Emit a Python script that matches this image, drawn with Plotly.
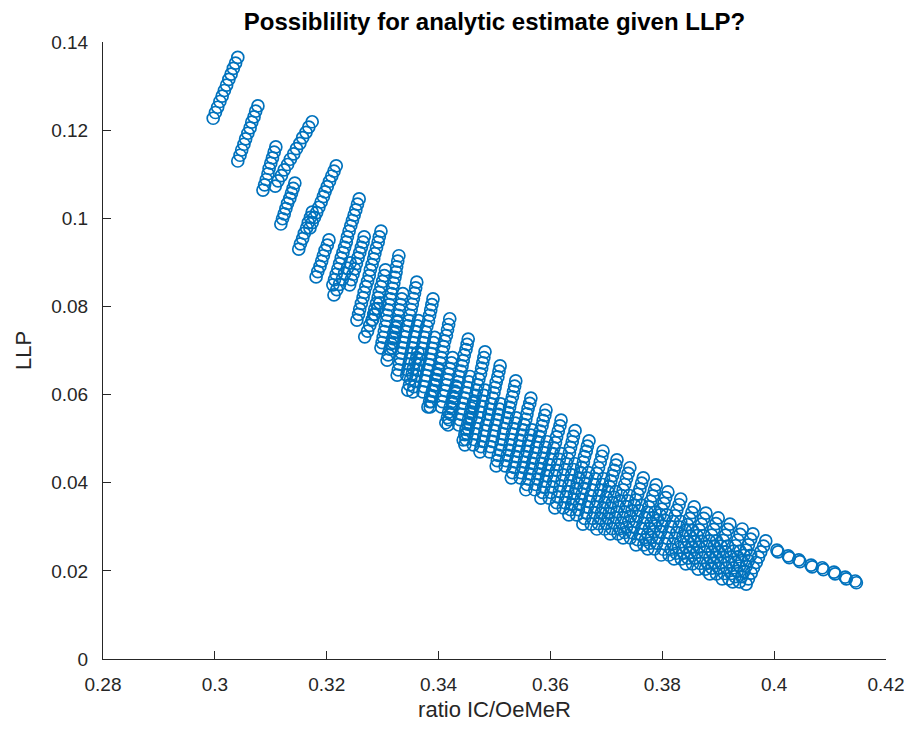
import plotly.graph_objects as go

# ---- data (ratio IC/OeMeR vs LLP) ----
# short streaks, upper-left family
fam_b_x = [
    [0.2997,0.3001,0.3005,0.3009,0.3013,0.3017,0.3021,0.3025,0.3029,0.3033,0.3037,0.3041],
    [0.3041,0.3045,0.3048,0.3052,0.3055,0.3059,0.3063,0.3066,0.3070,0.3073,0.3077],
    [0.3086,0.3089,0.3092,0.3095,0.3097,0.3100,0.3103,0.3106,0.3109],
    [0.3118,0.3121,0.3124,0.3127,0.3130,0.3134,0.3137,0.3140,0.3143],
    [0.3150,0.3153,0.3157,0.3160,0.3164,0.3167,0.3171,0.3174],
    [0.3181,0.3184,0.3188,0.3191,0.3194,0.3197,0.3201,0.3204],
    [0.3213,0.3218,0.3223,0.3228,0.3232,0.3237,0.3242],
    [0.3268,0.3273,0.3277,0.3282,0.3286,0.3291,0.3295],
    [0.3308,0.3310,0.3313,0.3315,0.3318,0.3320,0.3323,0.3326],
    [0.3345,0.3348,0.3350,0.3353,0.3355,0.3358,0.3361,0.3363],
    [0.3381,0.3384,0.3386,0.3389,0.3392,0.3395,0.3397,0.3400],
    [0.3413,0.3416,0.3418,0.3421,0.3424,0.3426,0.3429,0.3431],
    [0.3444,0.3447,0.3449,0.3452,0.3454,0.3457,0.3459,0.3462],
]
fam_b_y = [
    [0.1227,0.1240,0.1252,0.1265,0.1277,0.1290,0.1302,0.1315,0.1327,0.1340,0.1352,0.1365],
    [0.1130,0.1143,0.1155,0.1168,0.1180,0.1193,0.1205,0.1218,0.1230,0.1243,0.1255],
    [0.1064,0.1076,0.1088,0.1101,0.1113,0.1125,0.1137,0.1150,0.1162],
    [0.0987,0.0999,0.1010,0.1022,0.1034,0.1045,0.1057,0.1068,0.1080],
    [0.0930,0.0942,0.0954,0.0966,0.0978,0.0990,0.1002,0.1014],
    [0.0867,0.0879,0.0891,0.0903,0.0915,0.0927,0.0939,0.0951],
    [0.0826,0.0838,0.0850,0.0862,0.0875,0.0887,0.0899],
    [0.0731,0.0744,0.0757,0.0770,0.0782,0.0795,0.0808],
    [0.0678,0.0690,0.0703,0.0715,0.0727,0.0740,0.0752,0.0765],
    [0.0610,0.0622,0.0635,0.0647,0.0659,0.0672,0.0684,0.0696],
    [0.0572,0.0584,0.0596,0.0608,0.0620,0.0632,0.0644,0.0656],
    [0.0536,0.0548,0.0560,0.0572,0.0584,0.0596,0.0608,0.0619],
    [0.0497,0.0509,0.0521,0.0533,0.0545,0.0557,0.0569,0.0581],
]

# long streaks forming the upper envelope
fam_a_x = [
    [0.3108,0.3113,0.3119,0.3124,0.3130,0.3135,0.3141,0.3146,0.3152,0.3157,0.3163,0.3168,0.3174],
    [0.3170,0.3174,0.3178,0.3182,0.3186,0.3190,0.3194,0.3197,0.3201,0.3205,0.3209,0.3213,0.3217],
    [0.3211,0.3214,0.3217,0.3220,0.3223,0.3226,0.3229,0.3232,0.3235,0.3237,0.3240,0.3243,0.3246,0.3249,0.3252,0.3255,0.3258],
    [0.3254,0.3257,0.3259,0.3262,0.3265,0.3267,0.3270,0.3273,0.3276,0.3278,0.3281,0.3284,0.3286,0.3289,0.3292,0.3294,0.3297],
    [0.3297,0.3299,0.3301,0.3303,0.3305,0.3307,0.3308,0.3310,0.3312,0.3314,0.3316,0.3318,0.3320,0.3322,0.3324,0.3325,0.3327,0.3329],
    [0.3326,0.3328,0.3330,0.3332,0.3334,0.3336,0.3338,0.3340,0.3342,0.3345,0.3347,0.3349,0.3351,0.3353,0.3355,0.3357,0.3359,0.3361],
    [0.3354,0.3356,0.3358,0.3360,0.3362,0.3365,0.3367,0.3369,0.3371,0.3373,0.3375,0.3377,0.3379,0.3382,0.3384,0.3386,0.3388,0.3390],
    [0.3385,0.3387,0.3389,0.3392,0.3394,0.3396,0.3398,0.3400,0.3403,0.3405,0.3407,0.3409,0.3411,0.3414,0.3416,0.3418,0.3420],
    [0.3417,0.3419,0.3422,0.3424,0.3426,0.3428,0.3431,0.3433,0.3435,0.3437,0.3440,0.3442,0.3444,0.3446,0.3449,0.3451,0.3453],
    [0.3447,0.3449,0.3451,0.3453,0.3455,0.3458,0.3460,0.3462,0.3464,0.3466,0.3468,0.3470,0.3472,0.3475,0.3477,0.3479,0.3481,0.3483],
    [0.3474,0.3476,0.3479,0.3481,0.3483,0.3485,0.3488,0.3490,0.3492,0.3494,0.3497,0.3499,0.3501,0.3503,0.3506,0.3508,0.3510],
    [0.3503,0.3505,0.3507,0.3510,0.3512,0.3514,0.3516,0.3518,0.3521,0.3523,0.3525,0.3527,0.3529,0.3532,0.3534,0.3536,0.3538],
    [0.3530,0.3532,0.3535,0.3537,0.3539,0.3542,0.3544,0.3546,0.3549,0.3551,0.3553,0.3556,0.3558,0.3560,0.3563,0.3565],
    [0.3556,0.3558,0.3561,0.3563,0.3566,0.3568,0.3570,0.3573,0.3575,0.3578,0.3580,0.3582,0.3585,0.3587,0.3590,0.3592],
    [0.3583,0.3586,0.3588,0.3591,0.3593,0.3596,0.3598,0.3601,0.3604,0.3606,0.3609,0.3611,0.3614,0.3617,0.3619],
    [0.3608,0.3611,0.3613,0.3616,0.3618,0.3621,0.3623,0.3626,0.3629,0.3631,0.3634,0.3636,0.3639,0.3641,0.3644],
    [0.3633,0.3636,0.3638,0.3641,0.3643,0.3646,0.3648,0.3651,0.3654,0.3656,0.3659,0.3661,0.3664,0.3666,0.3669],
    [0.3658,0.3661,0.3664,0.3666,0.3669,0.3672,0.3675,0.3678,0.3680,0.3683,0.3686,0.3689,0.3692,0.3694],
    [0.3683,0.3686,0.3689,0.3691,0.3694,0.3697,0.3700,0.3703,0.3705,0.3708,0.3711,0.3714,0.3717,0.3719],
    [0.3707,0.3710,0.3713,0.3716,0.3719,0.3722,0.3724,0.3727,0.3730,0.3733,0.3736,0.3739,0.3742],
    [0.3730,0.3733,0.3736,0.3740,0.3743,0.3746,0.3750,0.3753,0.3756,0.3760,0.3763,0.3766],
    [0.3753,0.3756,0.3760,0.3763,0.3766,0.3769,0.3773,0.3776,0.3779,0.3783,0.3786,0.3789],
    [0.3774,0.3778,0.3781,0.3785,0.3788,0.3792,0.3796,0.3799,0.3803,0.3806,0.3810],
    [0.3798,0.3802,0.3805,0.3809,0.3812,0.3816,0.3819,0.3823,0.3826,0.3830,0.3833],
    [0.3821,0.3825,0.3829,0.3833,0.3837,0.3841,0.3845,0.3849,0.3853,0.3857],
    [0.3842,0.3846,0.3850,0.3854,0.3858,0.3862,0.3866,0.3870,0.3874,0.3878],
    [0.3864,0.3868,0.3872,0.3876,0.3880,0.3884,0.3888,0.3892,0.3896,0.3900],
    [0.3885,0.3889,0.3893,0.3897,0.3901,0.3905,0.3909,0.3913,0.3917,0.3921],
    [0.3907,0.3911,0.3915,0.3919,0.3923,0.3927,0.3931,0.3935,0.3939,0.3943],
    [0.3926,0.3930,0.3934,0.3938,0.3942,0.3946,0.3950,0.3954,0.3958,0.3962],
    [0.3950,0.3954,0.3959,0.3963,0.3968,0.3972,0.3976,0.3981,0.3985],
]
fam_a_y = [
    [0.1073,0.1085,0.1097,0.1110,0.1122,0.1134,0.1146,0.1158,0.1170,0.1183,0.1195,0.1207,0.1219],
    [0.0978,0.0990,0.1002,0.1013,0.1025,0.1037,0.1049,0.1060,0.1072,0.1084,0.1096,0.1107,0.1119],
    [0.0849,0.0861,0.0873,0.0885,0.0897,0.0910,0.0922,0.0934,0.0946,0.0958,0.0971,0.0983,0.0995,0.1007,0.1019,0.1032,0.1044],
    [0.0769,0.0782,0.0794,0.0807,0.0820,0.0832,0.0845,0.0857,0.0870,0.0883,0.0895,0.0908,0.0920,0.0933,0.0946,0.0958,0.0971],
    [0.0706,0.0718,0.0730,0.0743,0.0755,0.0767,0.0780,0.0792,0.0804,0.0817,0.0829,0.0841,0.0853,0.0866,0.0878,0.0890,0.0903,0.0915],
    [0.0644,0.0656,0.0669,0.0681,0.0694,0.0706,0.0718,0.0731,0.0743,0.0756,0.0768,0.0780,0.0793,0.0805,0.0818,0.0830,0.0842,0.0855],
    [0.0606,0.0618,0.0631,0.0643,0.0656,0.0668,0.0680,0.0693,0.0705,0.0718,0.0730,0.0742,0.0755,0.0767,0.0780,0.0792,0.0804,0.0817],
    [0.0572,0.0584,0.0597,0.0609,0.0622,0.0634,0.0647,0.0659,0.0672,0.0684,0.0697,0.0709,0.0722,0.0734,0.0747,0.0759,0.0772],
    [0.0531,0.0543,0.0555,0.0568,0.0580,0.0592,0.0604,0.0616,0.0629,0.0641,0.0653,0.0665,0.0677,0.0690,0.0702,0.0714,0.0726],
    [0.0486,0.0498,0.0511,0.0523,0.0536,0.0548,0.0560,0.0573,0.0585,0.0598,0.0610,0.0622,0.0635,0.0647,0.0660,0.0672,0.0684,0.0697],
    [0.0470,0.0482,0.0494,0.0506,0.0518,0.0531,0.0543,0.0555,0.0567,0.0579,0.0592,0.0604,0.0616,0.0628,0.0640,0.0653,0.0665],
    [0.0438,0.0450,0.0462,0.0474,0.0486,0.0498,0.0511,0.0523,0.0535,0.0547,0.0559,0.0571,0.0583,0.0595,0.0607,0.0619,0.0631],
    [0.0411,0.0423,0.0435,0.0447,0.0459,0.0471,0.0483,0.0496,0.0508,0.0520,0.0532,0.0544,0.0556,0.0568,0.0580,0.0592],
    [0.0384,0.0396,0.0408,0.0420,0.0432,0.0444,0.0456,0.0468,0.0480,0.0493,0.0505,0.0517,0.0529,0.0541,0.0553,0.0565],
    [0.0365,0.0378,0.0390,0.0403,0.0416,0.0428,0.0441,0.0453,0.0466,0.0479,0.0491,0.0504,0.0517,0.0529,0.0542],
    [0.0343,0.0355,0.0368,0.0380,0.0393,0.0405,0.0418,0.0430,0.0443,0.0455,0.0468,0.0480,0.0493,0.0505,0.0518],
    [0.0327,0.0339,0.0351,0.0363,0.0375,0.0387,0.0399,0.0411,0.0423,0.0435,0.0447,0.0459,0.0471,0.0483,0.0495],
    [0.0306,0.0319,0.0332,0.0345,0.0357,0.0370,0.0383,0.0396,0.0409,0.0421,0.0434,0.0447,0.0460,0.0472],
    [0.0295,0.0307,0.0319,0.0331,0.0343,0.0355,0.0367,0.0380,0.0392,0.0404,0.0416,0.0428,0.0440,0.0452],
    [0.0284,0.0296,0.0309,0.0321,0.0334,0.0346,0.0359,0.0371,0.0384,0.0396,0.0409,0.0421,0.0434],
    [0.0275,0.0287,0.0299,0.0312,0.0324,0.0337,0.0349,0.0361,0.0374,0.0386,0.0399,0.0411],
    [0.0259,0.0271,0.0283,0.0296,0.0308,0.0321,0.0333,0.0345,0.0358,0.0370,0.0383,0.0395],
    [0.0250,0.0263,0.0276,0.0289,0.0302,0.0315,0.0327,0.0340,0.0353,0.0366,0.0379],
    [0.0236,0.0249,0.0261,0.0274,0.0287,0.0300,0.0312,0.0325,0.0338,0.0350,0.0363],
    [0.0227,0.0240,0.0253,0.0266,0.0279,0.0292,0.0305,0.0319,0.0332,0.0345],
    [0.0216,0.0229,0.0242,0.0254,0.0267,0.0280,0.0293,0.0306,0.0319,0.0331],
    [0.0204,0.0217,0.0230,0.0243,0.0256,0.0268,0.0281,0.0294,0.0307,0.0320],
    [0.0193,0.0206,0.0218,0.0231,0.0243,0.0256,0.0269,0.0281,0.0294,0.0306],
    [0.0182,0.0194,0.0207,0.0220,0.0232,0.0245,0.0257,0.0270,0.0283,0.0295],
    [0.0175,0.0187,0.0199,0.0211,0.0223,0.0235,0.0247,0.0259,0.0272,0.0284],
    [0.0170,0.0182,0.0195,0.0207,0.0219,0.0231,0.0243,0.0256,0.0268],
]

# shorter streaks lying between the long ones (fill the lower part of the band)
fam_c_x = [
    [0.3241,0.3244,0.3247,0.3250,0.3253,0.3256,0.3259,0.3262,0.3265,0.3267],
    [0.3281,0.3284,0.3286,0.3289,0.3292,0.3294,0.3297,0.3300,0.3303,0.3305],
    [0.3317,0.3319,0.3321,0.3323,0.3325,0.3327,0.3328,0.3330,0.3332,0.3334,0.3336],
    [0.3343,0.3345,0.3347,0.3349,0.3351,0.3353,0.3355,0.3357,0.3359,0.3362,0.3364],
    [0.3372,0.3374,0.3376,0.3378,0.3380,0.3383,0.3385,0.3387,0.3389,0.3391,0.3393],
    [0.3405,0.3407,0.3409,0.3412,0.3414,0.3416,0.3418,0.3420,0.3423,0.3425],
    [0.3436,0.3438,0.3441,0.3443,0.3445,0.3447,0.3450,0.3452,0.3454,0.3456],
    [0.3462,0.3464,0.3466,0.3468,0.3470,0.3473,0.3475,0.3477,0.3479,0.3481,0.3483],
    [0.3491,0.3493,0.3496,0.3498,0.3500,0.3502,0.3505,0.3507,0.3509,0.3511],
    [0.3519,0.3521,0.3523,0.3526,0.3528,0.3530,0.3532,0.3534,0.3537,0.3539],
    [0.3546,0.3548,0.3551,0.3553,0.3555,0.3558,0.3560,0.3562,0.3565,0.3567],
    [0.3572,0.3574,0.3577,0.3579,0.3582,0.3584,0.3586,0.3589,0.3591,0.3594],
    [0.3598,0.3601,0.3603,0.3606,0.3608,0.3611,0.3613,0.3616,0.3619],
    [0.3623,0.3626,0.3628,0.3631,0.3633,0.3636,0.3638,0.3641,0.3644],
    [0.3647,0.3650,0.3652,0.3655,0.3657,0.3660,0.3662,0.3665,0.3668],
    [0.3673,0.3676,0.3679,0.3681,0.3684,0.3687,0.3690,0.3693,0.3695],
    [0.3697,0.3700,0.3703,0.3705,0.3708,0.3711,0.3714,0.3717],
    [0.3721,0.3724,0.3727,0.3730,0.3733,0.3736,0.3738,0.3741],
    [0.3743,0.3746,0.3749,0.3753,0.3756,0.3759,0.3763],
    [0.3767,0.3770,0.3774,0.3777,0.3780,0.3783,0.3787],
    [0.3786,0.3790,0.3793,0.3797,0.3800,0.3804,0.3808],
    [0.3812,0.3816,0.3819,0.3823,0.3826,0.3830,0.3833],
    [0.3834,0.3838,0.3842,0.3846,0.3850,0.3854],
    [0.3854,0.3858,0.3862,0.3866,0.3870,0.3874],
    [0.3877,0.3881,0.3885,0.3889,0.3893,0.3897],
    [0.3897,0.3901,0.3905,0.3909,0.3913,0.3917],
    [0.3919,0.3923,0.3927,0.3931,0.3935,0.3939],
    [0.3938,0.3942,0.3946,0.3950,0.3954,0.3958],
]
fam_c_y = [
    [0.0849,0.0861,0.0873,0.0885,0.0897,0.0910,0.0922,0.0934,0.0946,0.0958],
    [0.0769,0.0782,0.0794,0.0807,0.0820,0.0832,0.0845,0.0857,0.0870,0.0883],
    [0.0706,0.0718,0.0730,0.0743,0.0755,0.0767,0.0780,0.0792,0.0804,0.0817,0.0829],
    [0.0644,0.0656,0.0669,0.0681,0.0694,0.0706,0.0718,0.0731,0.0743,0.0756,0.0768],
    [0.0606,0.0618,0.0631,0.0643,0.0656,0.0668,0.0680,0.0693,0.0705,0.0718,0.0730],
    [0.0572,0.0584,0.0597,0.0609,0.0622,0.0634,0.0647,0.0659,0.0672,0.0684],
    [0.0531,0.0543,0.0555,0.0568,0.0580,0.0592,0.0604,0.0616,0.0629,0.0641],
    [0.0486,0.0498,0.0511,0.0523,0.0536,0.0548,0.0560,0.0573,0.0585,0.0598,0.0610],
    [0.0470,0.0482,0.0494,0.0506,0.0518,0.0531,0.0543,0.0555,0.0567,0.0579],
    [0.0438,0.0450,0.0462,0.0474,0.0486,0.0498,0.0511,0.0523,0.0535,0.0547],
    [0.0411,0.0423,0.0435,0.0447,0.0459,0.0471,0.0483,0.0496,0.0508,0.0520],
    [0.0384,0.0396,0.0408,0.0420,0.0432,0.0444,0.0456,0.0468,0.0480,0.0493],
    [0.0365,0.0378,0.0390,0.0403,0.0416,0.0428,0.0441,0.0453,0.0466],
    [0.0343,0.0355,0.0368,0.0380,0.0393,0.0405,0.0418,0.0430,0.0443],
    [0.0327,0.0339,0.0351,0.0363,0.0375,0.0387,0.0399,0.0411,0.0423],
    [0.0306,0.0319,0.0332,0.0345,0.0357,0.0370,0.0383,0.0396,0.0409],
    [0.0295,0.0307,0.0319,0.0331,0.0343,0.0355,0.0367,0.0380],
    [0.0284,0.0296,0.0309,0.0321,0.0334,0.0346,0.0359,0.0371],
    [0.0275,0.0287,0.0299,0.0312,0.0324,0.0337,0.0349],
    [0.0259,0.0271,0.0283,0.0296,0.0308,0.0321,0.0333],
    [0.0250,0.0263,0.0276,0.0289,0.0302,0.0315,0.0327],
    [0.0236,0.0249,0.0261,0.0274,0.0287,0.0300,0.0312],
    [0.0227,0.0240,0.0253,0.0266,0.0279,0.0292],
    [0.0216,0.0229,0.0242,0.0254,0.0267,0.0280],
    [0.0204,0.0217,0.0230,0.0243,0.0256,0.0268],
    [0.0193,0.0206,0.0218,0.0231,0.0243,0.0256],
    [0.0182,0.0194,0.0207,0.0220,0.0232,0.0245],
    [0.0175,0.0187,0.0199,0.0211,0.0223,0.0235],
]

# single tail beyond the dense block (each position drawn twice, slightly offset)
tail_x = [0.4005,0.4025,0.4044,0.4066,0.4086,0.4107,0.4127,0.4145,
          0.4007,0.4027,0.4046,0.4068,0.4088,0.4109,0.4129,0.4147]
tail_y = [0.0247,0.0234,0.0225,0.0213,0.0207,0.0197,0.0186,0.0177,
          0.0243,0.0230,0.0221,0.0209,0.0203,0.0193,0.0182,0.0173]

x_ticks = [0.28, 0.30, 0.32, 0.34, 0.36, 0.38, 0.40, 0.42]
x_tick_labels = ["0.28", "0.3", "0.32", "0.34", "0.36", "0.38", "0.4", "0.42"]
y_ticks = [0, 0.02, 0.04, 0.06, 0.08, 0.10, 0.12, 0.14]
y_tick_labels = ["0", "0.02", "0.04", "0.06", "0.08", "0.1", "0.12", "0.14"]

xs, ys = [], []
for sx, sy in zip(fam_b_x + fam_a_x + fam_c_x, fam_b_y + fam_a_y + fam_c_y):
    xs.extend(sx)
    ys.extend(sy)
xs.extend(tail_x)
ys.extend(tail_y)

BLUE = "#0072BD"
AX = "#262626"
FONT = "Liberation Sans, Arial, Helvetica, sans-serif"

# the page body has an 8px margin, so the figure is 8px smaller each way
FIG_W, FIG_H = 904, 735

fig = go.Figure(go.Scatter(
    x=xs, y=ys, mode="markers",
    marker=dict(symbol="circle-open", size=12, color=BLUE, line=dict(width=1.7, color=BLUE)),
    hoverinfo="skip", showlegend=False,
))

fig.update_layout(
    width=FIG_W, height=FIG_H,
    margin=dict(l=95, r=26, t=34, b=84, autoexpand=False),
    paper_bgcolor="white", plot_bgcolor="white",
    font=dict(family=FONT, color=AX, size=19),
    title=dict(text="<b>Possiblility for analytic estimate given LLP?</b>",
               x=0.5, xref="paper", xanchor="center",
               y=1 - 14 / FIG_H, yref="container", yanchor="middle",
               font=dict(family=FONT, size=24, color="black")),
)
fig.update_xaxes(
    range=[0.28, 0.42], tickvals=x_ticks, ticktext=x_tick_labels,
    showline=True, linecolor=AX, linewidth=1, ticks="inside", ticklen=8, tickcolor=AX,
    showgrid=False, zeroline=False, mirror=False, automargin=False,
    ticklabelstandoff=8,
    title=dict(text="ratio IC/OeMeR", font=dict(size=22, color=AX), standoff=7),
    tickfont=dict(size=19, color=AX),
)
fig.update_yaxes(
    range=[0, 0.14], tickvals=y_ticks, ticktext=y_tick_labels,
    showline=True, linecolor=AX, linewidth=1, ticks="inside", ticklen=8, tickcolor=AX,
    showgrid=False, zeroline=False, mirror=False, automargin=False,
    ticklabelstandoff=10,
    title=dict(text="LLP", font=dict(size=22, color=AX), standoff=13),
    tickfont=dict(size=19, color=AX),
)

fig.write_html("out.html")
